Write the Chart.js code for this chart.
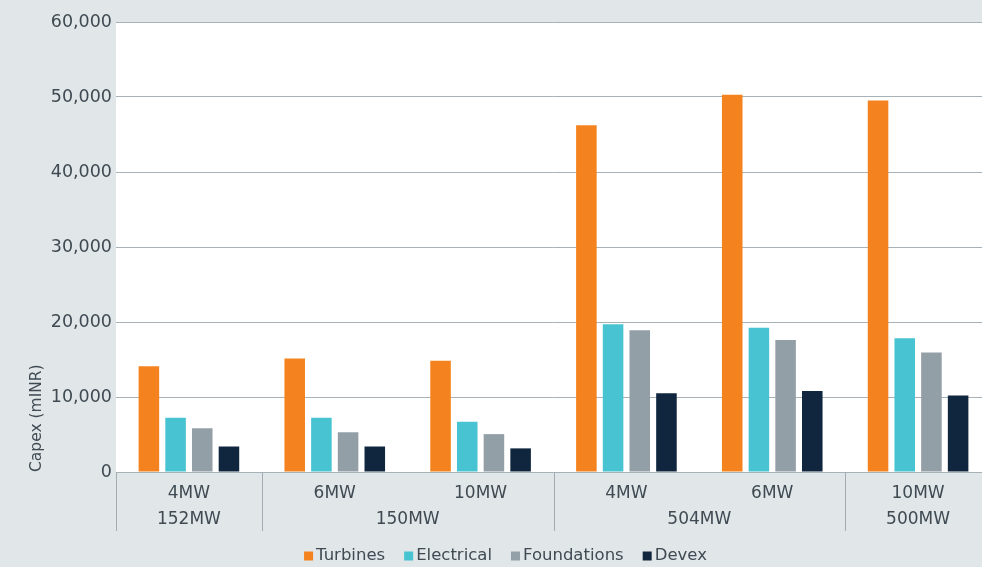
<!DOCTYPE html>
<html>
<head>
<meta charset="utf-8">
<script src="https://cdn.jsdelivr.net/npm/chart.js@4/dist/chart.umd.min.js"></script>
<style>
  html, body { margin: 0; padding: 0; background: #e1e6e9; }
  #wrap { width: 982px; height: 567px; overflow: hidden; position: relative; background: #e1e6e9; }
  canvas { display: block; }
</style>
</head>
<body>
<div id="wrap"><canvas id="c" width="991" height="574"></canvas></div>
<script>
// ---- data ----
const categories = ['4MW', '6MW', '10MW', '4MW', '6MW', '10MW'];
const groupLabels = ['152MW', '150MW', '504MW', '500MW'];
const groupSizes = [1, 2, 2, 1];
const seriesNames = ['Turbines', 'Electrical', 'Foundations', 'Devex'];
const turbines    = [14100, 15150, 14850, 46250, 50300, 49550];
const electrical  = [7250, 7250, 6700, 19700, 19250, 17850];
const foundations = [5850, 5300, 5050, 18900, 17600, 15950];
const devex       = [3400, 3400, 3150, 10500, 10800, 10200];
const yTicks = [0, 10000, 20000, 30000, 40000, 50000, 60000];

const colors = ['#f4831f', '#48c3d1', '#939fa6', '#10263e'];
const textColor = '#3f4a52';
const gridColor = '#a7b1b8';
const sepColor = '#a3acb2';
const FONT = '"DejaVu Sans", sans-serif';

const seriesValues = [turbines, electrical, foundations, devex];

const bgPlugin = {
  id: 'bg',
  beforeDraw(chart) {
    const { ctx, chartArea } = chart;
    ctx.save();
    ctx.fillStyle = '#e1e6e9';
    ctx.fillRect(0, 0, chart.width, chart.height);
    ctx.fillStyle = '#ffffff';
    ctx.fillRect(chartArea.left, chartArea.top, chartArea.right - chartArea.left, chartArea.bottom - chartArea.top);
    ctx.restore();
  }
};

const groupPlugin = {
  id: 'groups',
  afterDraw(chart) {
    const { ctx, chartArea } = chart;
    const xs = chart.scales.x;
    ctx.save();
    ctx.strokeStyle = sepColor;
    ctx.lineWidth = 1;
    ctx.fillStyle = textColor;
    ctx.font = '17px ' + FONT;
    ctx.textAlign = 'center';
    ctx.textBaseline = 'middle';
    let start = 0;
    groupSizes.forEach((n, g) => {
      const x0 = xs.getPixelForValue(start - 0.5);
      const x1 = xs.getPixelForValue(start + n - 0.5);
      const xl = Math.round(x0) + 0.5;
      ctx.beginPath();
      ctx.moveTo(xl, chartArea.bottom);
      ctx.lineTo(xl, chartArea.bottom + 59);
      ctx.stroke();
      ctx.fillText(groupLabels[g], (x0 + x1) / 2, chartArea.bottom + 48);
      start += n;
    });
    ctx.restore();
  }
};

const legendPlugin = {
  id: 'customLegend',
  afterDraw(chart) {
    const { ctx } = chart;
    ctx.save();
    ctx.font = '16.5px ' + FONT;
    ctx.textBaseline = 'middle';
    ctx.textAlign = 'left';
    const box = 9, gap = 3, spacing = 19;
    const items = chart.data.datasets.map(d => ({ label: d.label, color: d.backgroundColor, w: ctx.measureText(d.label).width }));
    const total = items.reduce((s, it) => s + box + gap + it.w, 0) + spacing * (items.length - 1);
    let x = 505.5 - total / 2;
    const y = 556;
    items.forEach(it => {
      ctx.fillStyle = it.color;
      ctx.fillRect(x, y - 4.5, box, box);
      ctx.fillStyle = textColor;
      ctx.fillText(it.label, x + box + gap, y);
      x += box + gap + it.w + spacing;
    });
    ctx.restore();
  }
};

new Chart(document.getElementById('c'), {
  type: 'bar',
  data: {
    labels: categories,
    datasets: seriesNames.map((name, i) => ({
      label: name,
      data: seriesValues[i],
      backgroundColor: colors[i],
      borderWidth: 0,
      categoryPercentage: 0.732,
      barPercentage: 0.77
    }))
  },
  options: {
    responsive: false,
    devicePixelRatio: 1,
    animation: false,
    layout: { padding: { left: 20, top: 22, right: 0, bottom: 0 } },
    plugins: {
      legend: { display: false },
      tooltip: { enabled: false }
    },
    scales: {
      x: {
        grid: { display: false, drawTicks: false },
        border: { display: false },
        ticks: { color: textColor, font: { family: FONT, size: 17 }, padding: 11, maxRotation: 0, autoSkip: false },
        afterFit(scale) { scale.height = 102; }
      },
      y: {
        min: 0,
        max: 60000,
        afterBuildTicks(scale) { scale.ticks = yTicks.map(v => ({ value: v })); },
        grid: { color: gridColor, lineWidth: 1, drawTicks: false },
        border: { display: false },
        ticks: {
          color: textColor,
          font: { family: FONT, size: 17.5 },
          padding: 4,
          callback: v => v.toLocaleString('en-US')
        },
        title: {
          display: true,
          text: 'Capex (mINR)',
          align: 'start',
          color: textColor,
          font: { family: FONT, size: 15.5 },
          padding: { top: 8, bottom: 0 }
        },
        afterFit(scale) { scale.width = 96; }
      }
    }
  },
  plugins: [bgPlugin, groupPlugin, legendPlugin]
});
</script>
</body>
</html>
